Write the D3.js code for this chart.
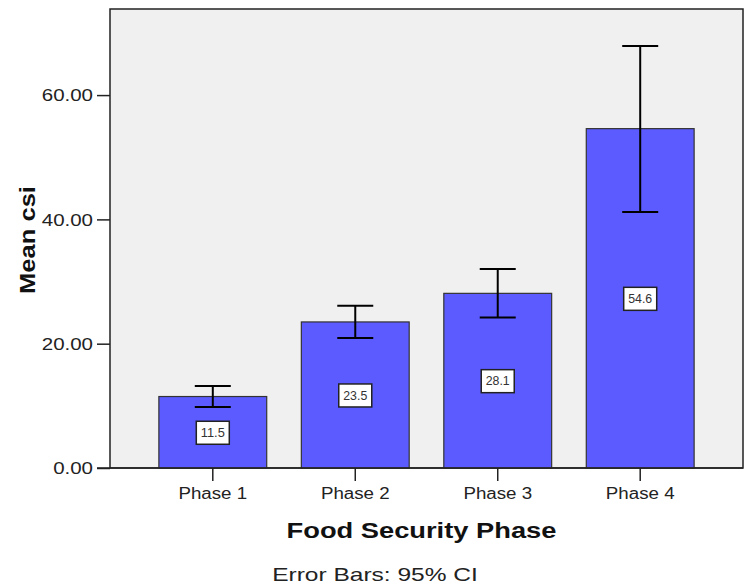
<!DOCTYPE html>
<html>
<head>
<meta charset="utf-8">
<script src="https://cdn.jsdelivr.net/npm/d3@7"></script>
<style>
  body { margin: 0; background: #fff; }
  text { font-family: "Liberation Sans", Arial, sans-serif; }
</style>
</head>
<body>
<div id="chart"></div>
<script>
// Chart data
const phases = ["Phase 1", "Phase 2", "Phase 3", "Phase 4"];
const means = [11.5, 23.5, 28.1, 54.6];
const ciLow = [9.8, 20.9, 24.2, 41.2];
const ciHigh = [13.2, 26.1, 32.0, 67.9];
const yTicks = [0, 20, 40, 60];

const width = 744, height = 588;
const margin = { top: 9, right: 1, bottom: 120, left: 110 };
const plotW = width - margin.left - margin.right;
const plotH = height - margin.top - margin.bottom;

// SPSS output text looks horizontally stretched; widen text by a factor.
function stretch(sel, factor) {
  sel.each(function() {
    const w = this.getComputedTextLength();
    d3.select(this)
      .attr("textLength", w * factor)
      .attr("lengthAdjust", "spacingAndGlyphs");
  });
}

const svg = d3.select("#chart").append("svg")
  .attr("width", width)
  .attr("height", height);

const x = d3.scaleBand()
  .domain(phases)
  .range([0, plotW])
  .paddingInner(0.243)
  .paddingOuter(0.343);

const y = d3.scaleLinear()
  .domain([0, 73.85])
  .range([plotH, 0]);

const g = svg.append("g")
  .attr("transform", `translate(${margin.left},${margin.top})`);

// Plot background and frame
g.append("rect")
  .attr("width", plotW)
  .attr("height", plotH)
  .attr("fill", "#f0f0f0")
  .attr("stroke", "#222")
  .attr("stroke-width", 1.5);

// Bars
g.selectAll("rect.bar")
  .data(phases)
  .enter()
  .append("rect")
  .attr("class", "bar")
  .attr("x", d => x(d))
  .attr("y", (d, i) => y(means[i]))
  .attr("width", x.bandwidth())
  .attr("height", (d, i) => plotH - y(means[i]))
  .attr("fill", "#5b5bff")
  .attr("stroke", "#333")
  .attr("stroke-width", 1.2);

// Error bars
const capW = 36;
const err = g.selectAll("g.err")
  .data(phases)
  .enter()
  .append("g")
  .attr("class", "err")
  .attr("stroke", "#000")
  .attr("stroke-width", 2);
err.append("line")
  .attr("x1", d => x(d) + x.bandwidth() / 2)
  .attr("x2", d => x(d) + x.bandwidth() / 2)
  .attr("y1", (d, i) => y(ciLow[i]))
  .attr("y2", (d, i) => y(ciHigh[i]));
err.append("line")
  .attr("x1", d => x(d) + x.bandwidth() / 2 - capW / 2)
  .attr("x2", d => x(d) + x.bandwidth() / 2 + capW / 2)
  .attr("y1", (d, i) => y(ciHigh[i]))
  .attr("y2", (d, i) => y(ciHigh[i]));
err.append("line")
  .attr("x1", d => x(d) + x.bandwidth() / 2 - capW / 2)
  .attr("x2", d => x(d) + x.bandwidth() / 2 + capW / 2)
  .attr("y1", (d, i) => y(ciLow[i]))
  .attr("y2", (d, i) => y(ciLow[i]));

// Value labels in boxes
const lab = g.selectAll("g.lab")
  .data(phases)
  .enter()
  .append("g")
  .attr("class", "lab")
  .attr("transform", (d, i) => `translate(${x(d) + x.bandwidth() / 2},${y(means[i] / 2)})`);
lab.append("rect")
  .attr("x", -16.5)
  .attr("y", -11)
  .attr("width", 33)
  .attr("height", 23)
  .attr("fill", "#fff")
  .attr("stroke", "#222")
  .attr("stroke-width", 1.5);
lab.append("text")
  .attr("text-anchor", "middle")
  .attr("dy", "0.36em")
  .attr("textLength", 24)
  .attr("lengthAdjust", "spacingAndGlyphs")
  .style("font-size", "13px")
  .style("fill", "#333")
  .text((d, i) => d3.format(".1f")(means[i]));

// Y axis
const yAxis = g.append("g")
  .call(d3.axisLeft(y).tickValues(yTicks).tickFormat(d3.format(".2f")).tickSize(13).tickPadding(4));
yAxis.select(".domain").remove();
yAxis.selectAll("line").attr("stroke", "#222").attr("stroke-width", 1.5);
yAxis.selectAll("text").style("font-size", "16px").style("fill", "#222").attr("dy", "0.36em");
stretch(yAxis.selectAll("text"), 1.28);

// X axis
const xAxis = g.append("g")
  .attr("transform", `translate(0,${plotH})`)
  .call(d3.axisBottom(x).tickSize(13).tickPadding(7));
xAxis.select(".domain")
  .attr("d", `M-13,0H${plotW}`)
  .attr("stroke", "#222")
  .attr("stroke-width", 1.5);
xAxis.selectAll("line").attr("stroke", "#222").attr("stroke-width", 1.5);
xAxis.selectAll("text").style("font-size", "16px").style("fill", "#222");
stretch(xAxis.selectAll("text"), 1.17);

// Axis titles
const xTitle = svg.append("text")
  .attr("x", margin.left + plotW / 2 - 5)
  .attr("y", 538)
  .attr("text-anchor", "middle")
  .style("font-size", "22px")
  .style("font-weight", "bold")
  .style("fill", "#111")
  .text("Food Security Phase");
stretch(xTitle, 1.24);

const yTitle = svg.append("text")
  .attr("transform", `translate(35,${margin.top + 231}) rotate(-90)`)
  .attr("text-anchor", "middle")
  .style("font-size", "22px")
  .style("font-weight", "bold")
  .style("fill", "#111")
  .text("Mean csi");
stretch(yTitle, 1.16);

const note = svg.append("text")
  .attr("x", 375)
  .attr("y", 581)
  .attr("text-anchor", "middle")
  .style("font-size", "19px")
  .style("fill", "#222")
  .text("Error Bars: 95% CI");
stretch(note, 1.29);
</script>
</body>
</html>
